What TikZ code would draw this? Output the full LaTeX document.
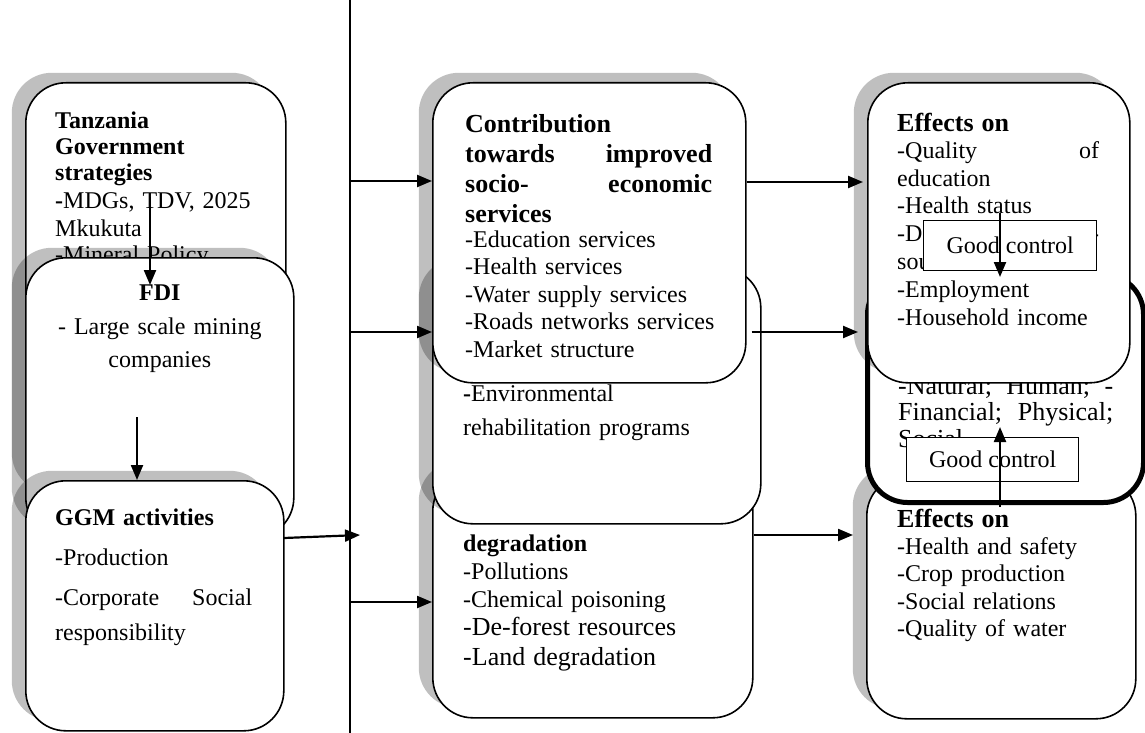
\documentclass[tikz,border=0pt]{standalone}
\usepackage{fontspec}
\setmainfont{Liberation Serif}
\usetikzlibrary{shapes, arrows.meta, positioning, shadows}
\hyphenpenalty=10000

\newcommand{\nsz}{\fontsize{24}{27.5}\selectfont}
\newcommand{\bsz}{\fontsize{26}{30}\selectfont}

\begin{document}
\begin{tikzpicture}[x=1pt, y=-1pt, >={Triangle[length=15pt, width=12pt]},
    box/.style={draw, line width=1.6pt, rounded corners=40pt, fill=white, anchor=north west, inner sep=0pt,
                drop shadow={shadow xshift=-14pt, shadow yshift=10pt, opacity=0.25, fill=black}},
    thickbox/.style={draw, line width=5pt, rounded corners=40pt, fill=white, anchor=north west, inner sep=0pt},
    ctrl/.style={draw, line width=1.4pt, fill=white, anchor=north west, inner sep=0pt, align=center, font=\nsz},
    txt/.style={anchor=north west, inner sep=0pt, align=left, font=\nsz},
    link/.style={->, line width=2.2pt}]

\useasboundingbox (0,0) rectangle (1145,733);

% left column
\node[box, minimum width=260pt, minimum height=420pt] (tgs) at (25,82) {};
\node[txt, text width=200pt, below right=30pt and 30pt of tgs.north west, font=\fontsize{24}{26}\selectfont] (tgs-t)
    {\textbf{Tanzania}\\ \textbf{Government}\\ \textbf{strategies}\\[2pt] \textbf{-}MDGs, TDV, 2025\\[2pt] Mkukuta\\ -Mineral Policy};

\node[box, minimum width=268pt, minimum height=280pt] (fdi) at (25,257) {};
\node[txt, text width=250pt, align=center, anchor=north, below=28pt of fdi.north, font=\fontsize{24}{33.5}\selectfont] (fdi-t)
    {\textbf{FDI}\\ - Large scale mining\\ companies};

\node[box, minimum width=258pt, minimum height=250pt] (ggm) at (25,480) {};
\node[txt, text width=197pt, below right=29pt and 30pt of ggm.north west] (ggm-t)
    {\textbf{GGM activities}\\[12pt] -Production\\[13pt] -Corporate\hfill Social\\[7pt] responsibility};

% divider
\coordinate (vtop) at (350,0);
\coordinate (vbot) at (350,733);
\draw[line width=1.4pt] (vtop) -- (vbot);

% middle column
\node[box, minimum width=320pt, minimum height=247pt] (degr) at (432,470) {};
\node[txt, text width=280pt, below right=65pt and 31pt of degr.north west, font=\fontsize{24}{28}\selectfont] (degr-t)
    {\textbf{degradation}\\ -Pollutions\\ -Chemical poisoning\\ {\bsz -De-forest resources}\\[2pt] {\bsz -Land degradation}};

\node[box, minimum width=328pt, minimum height=256pt] (envr) at (432,267) {};
\node[txt, text width=280pt, below right=118pt and 31pt of envr.north west, font=\fontsize{24}{34}\selectfont] (envr-t)
    {\textbf{-}Environmental\\ rehabilitation programs};

\node[box, minimum width=313pt, minimum height=300pt] (contrib) at (432,82) {};
\node[txt, text width=247pt, below right=32pt and 33pt of contrib.north west] (contrib-t)
    {{\bsz\bfseries Contribution\\ towards\hfill improved\\ socio-\hfill economic\\ services\\[-2.5pt]}
     -Education services\\ -Health services\\ -Water supply services\\ \mbox{-Roads networks services}\\ -Market structure};

% right column
\node[box, minimum width=269pt, minimum height=243pt] (effB) at (866,475) {};
\node[txt, text width=220pt, below right=34pt and 31pt of effB.north west] (effB-t)
    {{\bsz\bfseries Effects on}\\[-1pt] -Health and safety\\ -Crop production\\ -Social relations\\ -Quality of water};

\node[thickbox, minimum width=276pt, minimum height=228pt] (assets) at (865,272) {};
\node[txt, text width=215pt, below right=104pt and 33pt of assets.north west, font=\fontsize{26}{26.5}\selectfont] (assets-t)
    {-Natural;\hfill Human;\hfill -\\ Financial;\hfill Physical;\\ Social};

\node[box, minimum width=262pt, minimum height=300pt] (effA) at (867,82) {};
\node[txt, text width=202pt, below right=31pt and 30pt of effA.north west, font=\fontsize{24}{27.8}\selectfont] (effA-t)
    {{\bsz\bfseries Effects on}\\[-1pt] -Quality\hfill of\\ education\\ -Health status\\ -D\hfill -\\ sou\\ -Employment\\ -Household income};

\node[ctrl, minimum width=173pt, minimum height=50pt] (gcA) at (923,220) {Good control};
\node[ctrl, minimum width=172pt, minimum height=44pt] (gcB) at (906,437) {Good control};

% links
\coordinate (tgs-out) at (150,197);
\draw[link] (tgs-out) -- (tgs-out |- fdi-t.north);
\coordinate (fdi-out) at (137,417);
\draw[link] (fdi-out) -- (fdi-out |- ggm.north);
\coordinate (ggm-out) at (284,538);
\coordinate (v-ggm) at (360,535);
\draw[link] (ggm-out) -- (v-ggm);

\coordinate (v1) at (350,181);
\coordinate (v2) at (350,332);
\coordinate (v3) at (350,602);
\draw[link] (v1) -- (v1 -| contrib.west);
\draw[link] (v2) -- (v2 -| envr.west);
\draw[link] (v3) -- (v3 -| degr.west);

\coordinate (r1) at (863,182);
\coordinate (r2) at (858,332);
\coordinate (r3) at (853,535);
\draw[link] (contrib.east |- r1) -- (r1);
\draw[link] ([xshift=-10pt]envr.east |- r2) -- (r2);
\draw[link] (degr.east |- r3) -- (r3);

\coordinate (gcA-in) at (1000,213);
\coordinate (gcA-tip) at (1000,277);
\draw[link] (gcA-in) -- (gcA-tip);
\coordinate (gcB-out) at (1000,507);
\coordinate (gcB-tip) at (1000,427);
\draw[link] (gcB-out) -- (gcB-tip);

\end{tikzpicture}
\end{document}
